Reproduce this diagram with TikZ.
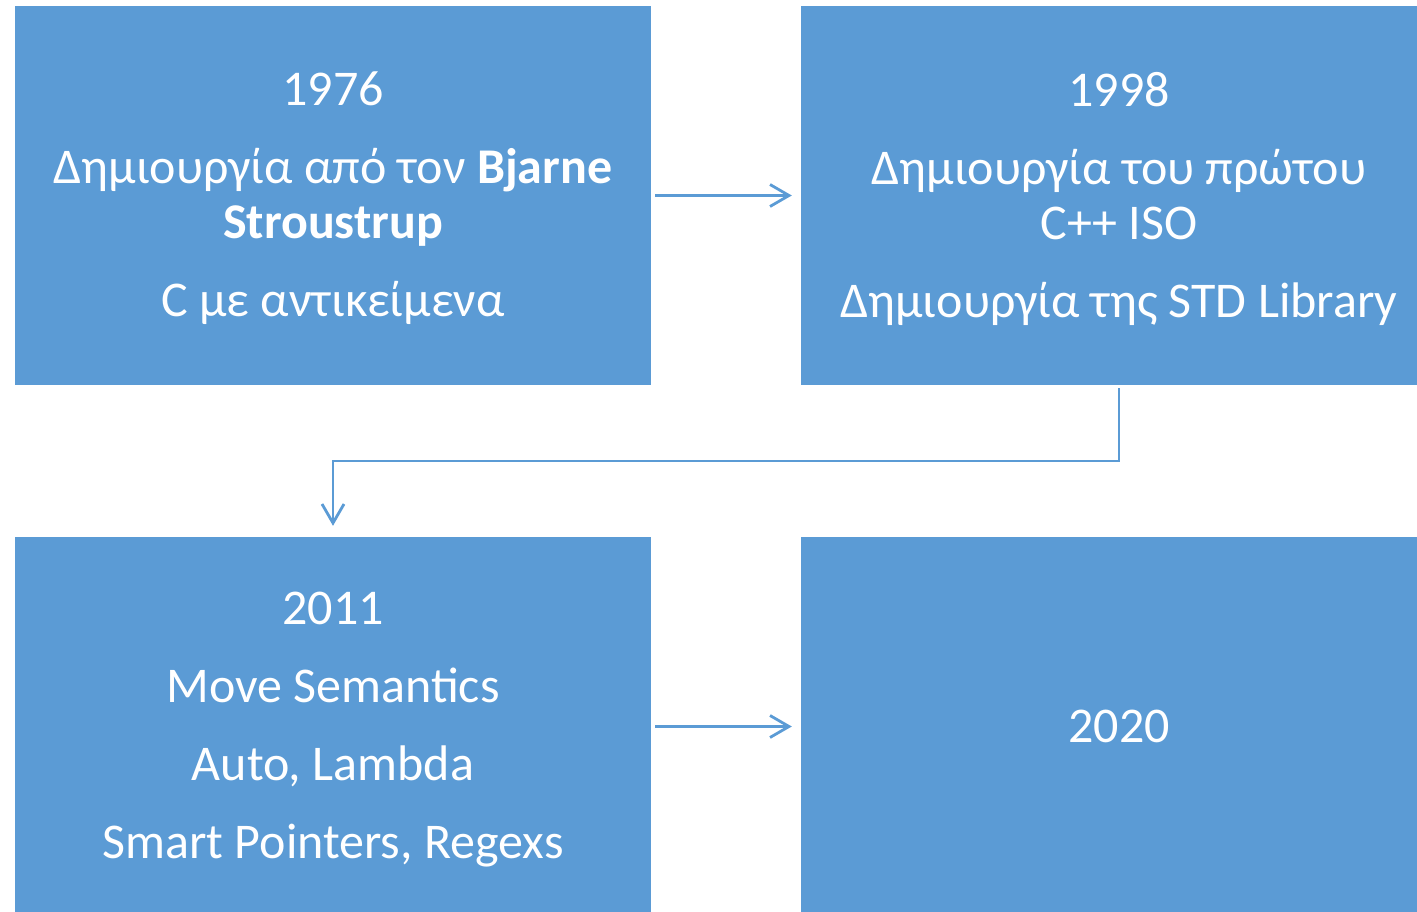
\documentclass[tikz,border=0pt]{standalone}
\usepackage{fontspec}
\setmainfont{Carlito}
\usetikzlibrary{arrows.meta}
\definecolor{boxblue}{HTML}{5B9BD5}
\tikzset{
  era/.style={rectangle, fill=boxblue, draw=none, minimum width=636pt,
    minimum height=379pt, inner sep=0pt},
  eratext/.style={inner sep=0pt, text=white, align=center,
    font=\fontsize{50}{55}\selectfont},
  link/.style={draw=boxblue, line width=2.8pt,
    -{Straight Barb[length=19pt, width=22pt, line width=2.8pt]}}
}
\begin{document}
\begin{tikzpicture}[x=1pt, y=-1pt]
\useasboundingbox (0,0) rectangle (1417,912);
\clip (0,0) rectangle (1417,912);

% timeline boxes
\node[era] (y1976) at (333,195.5) {};
\node[era] (y1998) at (1119,195.5) {};
\node[era] (y2011) at (333,726.5) {};
\node[era] (y2020) at (1119,726.5) {};

% box contents
\node[eratext] (t1976) at ([yshift=-3pt]y1976.center) {1976\\[23pt]
  Δημιουργία από τον \textbf{Bjarne}\\ \textbf{Stroustrup}\\[23pt]
  C με αντικείμενα};
\node[eratext] (t1998) at ([yshift=-3pt]y1998.center) {1998\\[23pt]
  Δημιουργία του πρώτου\\ C++ ISO\\[23pt]
  Δημιουργία της STD Library};
\node[eratext] (t2011) at ([yshift=-3pt]y2011.center) {2011\\[23pt]
  Move Semantics\\[23pt]
  Auto, Lambda\\[23pt]
  Smart Pointers, Regexs};
\node[eratext] (t2020) at (y2020.center) {2020};

% connectors
\coordinate (bend) at (1119,461);
\draw[link, shorten <=4pt, shorten >=9pt] (y1976.east) -- (y1998.west);
\draw[link, shorten <=3pt, shorten >=11pt] (y1998.south) -- (bend) -| (y2011.north);
\draw[link, shorten <=4pt, shorten >=9pt] (y2011.east) -- (y2020.west);
\end{tikzpicture}
\end{document}
